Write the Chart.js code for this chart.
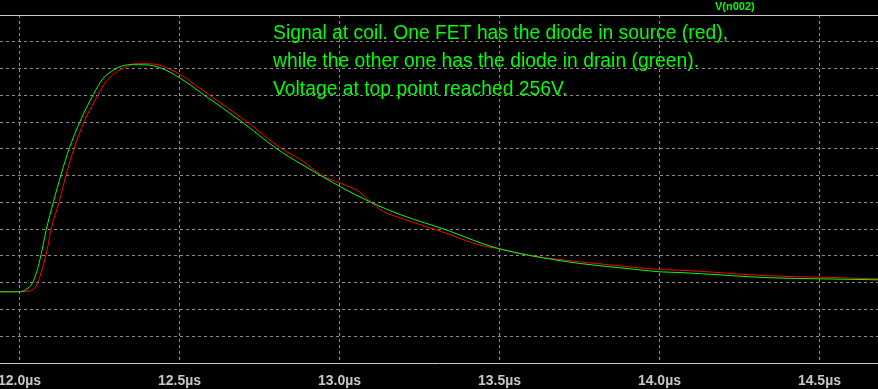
<!DOCTYPE html>
<html>
<head>
<meta charset="utf-8">
<title>V(n002)</title>
<script src="https://cdn.jsdelivr.net/npm/chart.js@4.4.1/dist/chart.umd.min.js"></script>
<style>
  html, body { margin: 0; padding: 0; background: #000; overflow: hidden; }
  canvas { display: block; }
</style>
</head>
<body>
<canvas id="scope" width="878" height="389"></canvas>
<script>
// time in µs, voltage in V
const greenTime = [11.939, 12.002, 12.020, 12.033, 12.043, 12.054, 12.064, 12.074, 12.083, 12.106, 12.129,
  12.155, 12.189, 12.231, 12.261, 12.288, 12.314, 12.345, 12.398, 12.439, 12.502, 12.574, 12.694, 12.804,
  12.877, 12.999, 13.101, 13.189, 13.345, 13.439, 13.499, 13.595, 13.752, 13.908, 13.999, 14.064,
  14.345, 14.504, 14.683];
const greenVolt = [41.5, 41.5, 43.6, 46.7, 51.4, 60.5, 71.7, 85.7, 98.8, 125.6, 150.2,
  175.1, 200.4, 225.9, 240.8, 247.4, 251.7, 253.6, 253.4, 250.8, 241.0, 225.9, 200.4, 175.1,
  161.4, 140.2, 124.7, 113.7, 98.1, 87.3, 81.7, 75.4, 67.9, 63.0, 60.2, 59.5,
  54.6, 53.6, 52.7];

const redTime = [11.939, 12.011, 12.042, 12.054, 12.064, 12.072, 12.080, 12.089, 12.098, 12.124, 12.145, 12.170,
  12.202, 12.246, 12.267, 12.306, 12.336, 12.361, 12.413, 12.439, 12.502, 12.590, 12.710, 12.819, 12.877, 12.949,
  12.999, 13.064, 13.090, 13.137, 13.189, 13.345, 13.439, 13.499, 13.595, 13.752, 13.908, 13.999,
  14.064, 14.345, 14.504, 14.683];
const redVolt = [41.5, 41.8, 43.6, 48.3, 56.1, 64.2, 72.6, 84.7, 98.8, 125.6, 150.2, 175.1,
  200.4, 225.9, 236.5, 247.5, 252.0, 254.6, 254.4, 253.0, 244.4, 225.9, 200.4, 175.1, 165.1, 149.5,
  143.4, 134.5, 127.5, 116.5, 110.6, 95.0, 85.0, 81.7, 75.4, 69.5, 64.8, 62.3,
  61.7, 56.4, 55.1, 53.6];

const noteLines = [
  'Signal at coil. One FET has the diode in source (red),',
  'while the other one has the diode in drain (green).',
  'Voltage at top point reached 256V.'
];
const traceName = 'V(n002)';

const toPoints = (ts, vs) => ts.map((t, i) => ({ x: t, y: vs[i] }));

const gridGray = '#8c8c8c';
const frameGray = '#c8c8c8';

// top frame line + green texts (LTspice style)
const scopeDecor = {
  id: 'scopeDecor',
  afterDraw(chart) {
    const { ctx, chartArea } = chart;
    ctx.save();
    ctx.strokeStyle = frameGray;
    ctx.lineWidth = 1;
    ctx.beginPath();
    ctx.moveTo(0, Math.round(chartArea.top) + 0.5);
    ctx.lineTo(chart.width, Math.round(chartArea.top) + 0.5);
    ctx.stroke();

    ctx.fillStyle = '#00ff00';
    ctx.textBaseline = 'alphabetic';
    ctx.font = 'bold 11px "Liberation Sans", Arial, sans-serif';
    ctx.fillText(traceName, 715, 10);

    // LTspice text is a bit narrower than Liberation Sans: squeeze to the first line width
    ctx.font = '20px "Liberation Sans", Arial, sans-serif';
    const sx = 455 / ctx.measureText(noteLines[0]).width;
    noteLines.forEach((line, i) => {
      ctx.save();
      ctx.translate(273, 38.5 + i * 28.3);
      ctx.scale(sx, 1);
      ctx.fillText(line, 0, 0);
      ctx.restore();
    });
    ctx.restore();
  }
};

new Chart(document.getElementById('scope'), {
  type: 'line',
  data: {
    datasets: [
      {
        label: 'drain diode',
        data: toPoints(greenTime, greenVolt),
        borderColor: '#00ff00',
        borderWidth: 1,
        pointRadius: 0,
        cubicInterpolationMode: 'monotone'
      },
      {
        label: 'source diode',
        data: toPoints(redTime, redVolt),
        borderColor: '#ff0000',
        borderWidth: 1,
        pointRadius: 0,
        cubicInterpolationMode: 'monotone'
      }
    ]
  },
  options: {
    responsive: false,
    animation: false,
    devicePixelRatio: 1,
    layout: { padding: { top: 15, left: 0, right: 0, bottom: 0 } },
    plugins: { legend: { display: false }, tooltip: { enabled: false } },
    scales: {
      x: {
        type: 'linear',
        min: 11.939,
        max: 14.683,
        afterFit(scale) { scale.paddingLeft = 0; scale.paddingRight = 0; scale.height = 26; },
        ticks: {
          stepSize: 0.5,
          includeBounds: false,
          maxRotation: 0,
          autoSkip: false,
          padding: 10,
          color: frameGray,
          font: { family: '"Liberation Sans", Arial, sans-serif', size: 14, weight: 'bold' },
          callback: v => v.toFixed(1) + 'µs'
        },
        grid: {
          color: gridGray,
          drawTicks: false,
          tickLength: 0
        },
        border: { display: true, color: frameGray, width: 1, dash: [3, 3] }
      },
      y: {
        min: -25,
        max: 300,
        afterFit(scale) { scale.width = 0; },
        ticks: { stepSize: 25, display: false },
        grid: {
          drawTicks: false,
          tickLength: 0,
          color: c => (c.tick && (c.tick.value === -25 || c.tick.value === 300)) ? 'rgba(0,0,0,0)' : gridGray
        },
        border: { display: false, dash: [3, 3] }
      }
    }
  },
  plugins: [scopeDecor]
});
</script>
</body>
</html>
